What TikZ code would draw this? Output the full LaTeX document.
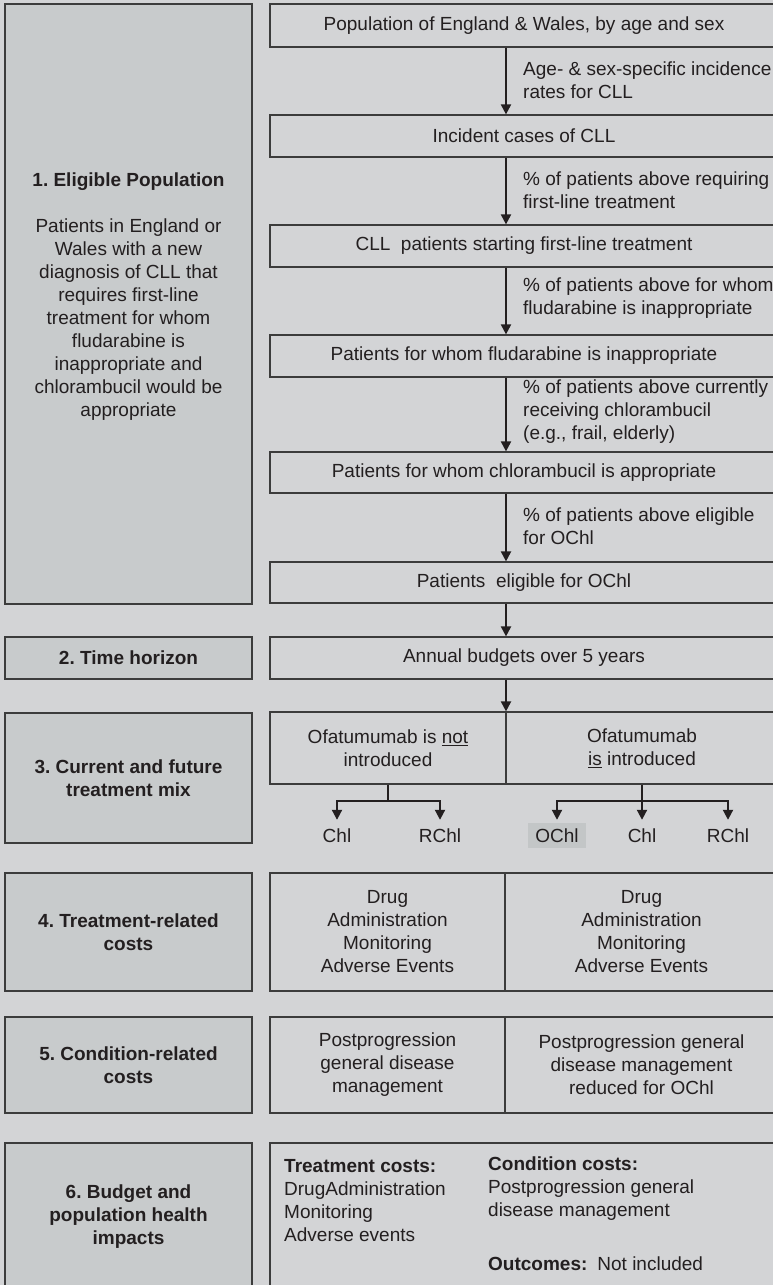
\documentclass[tikz,border=0pt]{standalone}
\usepackage{fontspec}
\setmainfont{Liberation Sans}
\usetikzlibrary{arrows.meta}
\definecolor{bg}{RGB}{211,212,214}
\definecolor{sidefill}{RGB}{200,203,204}
\definecolor{hl}{RGB}{195,198,199}
\definecolor{ink}{RGB}{35,31,32}
\definecolor{edge}{RGB}{60,60,60}
\frenchspacing
\begin{document}
\begin{tikzpicture}[x=1pt,y=-1pt,
  font=\fontsize{19}{23}\selectfont, text=ink,
  box/.style={draw=edge, line width=1.2pt, inner sep=0pt, align=center},
  side/.style={box, fill=sidefill, minimum width=247pt},
  flow/.style={box, minimum width=508pt, minimum height=42pt},
  half/.style={box, minimum width=236pt},
  halfR/.style={box, minimum width=272pt},
  arr/.style={draw=ink, line width=2pt, -{Triangle[length=10pt,width=10pt]}},
  tree/.style={draw=ink, line width=2pt},
  lbl/.style={anchor=west, align=left, inner sep=0pt},
  leaf/.style={inner xsep=7pt, inner ysep=0pt, minimum height=25pt}]

% canvas
\fill[bg] (0,0) rectangle (773,1285);
\useasboundingbox (0,0) rectangle (773,1285);

% ---- left column: model components ----
\node[side, minimum height=600pt] (L1) at (128.5,304) {};
\node[align=center, inner sep=0pt] (L1t) at (128.5,296.5)
  {\textbf{1. Eligible Population}\\[23pt]
   Patients in England or\\Wales with a new\\diagnosis of CLL that\\requires first-line\\
   treatment for whom\\fludarabine is\\inappropriate and\\chlorambucil would be\\appropriate};
\node[side, minimum height=42pt] (L2) at (128.5,658) {\textbf{2. Time horizon}};
\node[side, minimum height=130pt] (L3) at (128.5,778) {\textbf{3. Current and future}\\\textbf{treatment mix}};
\node[side, minimum height=118pt] (L4) at (128.5,932) {\textbf{4. Treatment-related}\\\textbf{costs}};
\node[side, minimum height=96pt] (L5) at (128.5,1065) {\textbf{5. Condition-related}\\\textbf{costs}};
\node[side, minimum height=147pt] (L6) at (128.5,1216.5) {\textbf{6. Budget and}\\\textbf{population health}\\\textbf{impacts}};

% ---- right column: population funnel ----
\node[flow, minimum height=43pt] (r1) at (524,25.5) {Population of England \& Wales, by age and sex};
\node[flow] (r2) at (524,136) {Incident cases of CLL};
\node[flow] (r3) at (524,246) {CLL\ \ patients starting first-line treatment};
\node[flow] (r4) at (524,356) {Patients for whom fludarabine is inappropriate};
\node[flow, minimum height=41pt] (r5) at (524,472.5) {Patients for whom chlorambucil is appropriate};
\node[flow, minimum height=41pt] (r6) at (524,582.5) {Patients\ \ eligible for OChl};
\node[flow] (r7) at (524,658) {Annual budgets over 5 years};

% treatment mix
\node[half, minimum height=72pt] (mixL) at (388,748) {Ofatumumab is \underline{not}\\introduced};
\node[halfR, minimum height=72pt] (mixR) at (642,748) {Ofatumumab\\\underline{is} introduced};

% treatment options
\node[leaf] (chl1) at (337,835.5) {Chl};
\node[leaf] (rchl1) at (440,835.5) {RChl};
\node[leaf, fill=hl] (ochl2) at (557,835.5) {OChl};
\node[leaf] (chl2) at (642,835.5) {Chl};
\node[leaf] (rchl2) at (728,835.5) {RChl};

% costs
\node[box, minimum width=235pt, minimum height=118pt] (c4L) at (387.5,932)
  {Drug\\Administration\\Monitoring\\Adverse Events};
\node[box, minimum width=273pt, minimum height=118pt] (c4R) at (641.5,932)
  {Drug\\Administration\\Monitoring\\Adverse Events};
\node[box, minimum width=235pt, minimum height=96pt] (c5L) at (387.5,1065)
  {Postprogression\\general disease\\management};
\node[box, minimum width=273pt, minimum height=96pt] (c5R) at (641.5,1065)
  {Postprogression general\\disease management\\reduced for OChl};

% impacts
\node[box, minimum width=508pt, minimum height=147pt] (imp) at (524,1216.5) {};
\node[lbl] (impA) at (284,1201)
  {\textbf{Treatment costs:}\\DrugAdministration\\Monitoring\\Adverse events};
\node[lbl] (impB) at (488,1189)
  {\textbf{Condition costs:}\\Postprogression general\\disease management};
\node[lbl] (impC) at (488,1264) {\textbf{Outcomes:}\hspace{10pt}Not included};

% ---- funnel arrows and their labels ----
\coordinate (ax) at (506,0);
\foreach \a/\b in {r1/r2,r2/r3,r3/r4,r4/r5,r5/r6,r6/r7,r7/mixL}
  \draw[arr] (\a.south -| ax) -- (\b.north -| ax);

\node[lbl] (t1) at (523,80) {Age- \& sex-specific incidence\\rates for CLL};
\node[lbl] (t2) at (523,190) {\% of patients above requiring\\first-line treatment};
\node[lbl] (t3) at (523,298) {\% of patients above for whom\\fludarabine is inappropriate};
\node[lbl] (t4) at (523,412) {\% of patients above currently\\receiving chlorambucil\\(e.g., frail, elderly)};
\node[lbl] (t5) at (523,526) {\% of patients above eligible\\for OChl};

% ---- branches to treatment options ----
\draw[tree] (mixL.south) -- ++(0,16) coordinate (jL);
\draw[arr, shorten >=3pt] (jL) -| (chl1.north);
\draw[arr, shorten >=3pt] (jL) -| (rchl1.north);
\draw[tree] (mixR.south) -- ++(0,16) coordinate (jR);
\draw[arr, shorten >=3pt] (jR) -| (ochl2.north);
\draw[arr, shorten >=3pt] (jR) -- (chl2.north);
\draw[arr, shorten >=3pt] (jR) -| (rchl2.north);
\end{tikzpicture}
\end{document}
